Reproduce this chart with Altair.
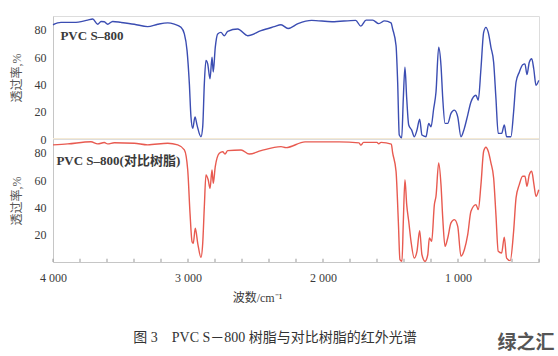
import altair as alt
import pandas as pd

# ---------------- data ----------------
wn_top = [4000, 3941, 3844, 3743, 3706, 3669, 3644, 3620, 3595, 3558, 3496, 3398, 3299, 3224,
          3150, 3101, 3052, 3027, 3007, 2990, 2978, 2965, 2948, 2933, 2904, 2891, 2879, 2867,
          2854, 2837, 2822, 2813, 2798, 2780, 2756, 2731, 2706, 2632, 2558, 2459, 2361, 2311,
          2259, 2185, 2084, 1933, 1758, 1720, 1681, 1632, 1587, 1544, 1496, 1484, 1459, 1447,
          1435, 1417, 1405, 1393, 1380, 1365, 1343, 1324, 1304, 1284, 1267, 1237, 1217, 1200,
          1180, 1163, 1143, 1126, 1113, 1096, 1076, 1052, 1027, 1002, 978, 953, 928, 904, 867,
          850, 830, 810, 793, 776, 756, 736, 719, 702, 677, 657, 640, 608, 588, 570, 546, 521,
          504, 489, 472, 454, 439, 422, 402]
tr_top = [83.6, 85.3, 85.3, 87, 87.8, 84, 86, 85.8, 84, 86, 85.3, 84, 82.2, 84,
          85, 84, 81.7, 76.9, 64.7, 40.5, 16.2, 7.8, 16.2, 10.2, 1.7, 9, 40.5, 57.5,
          55, 44, 59.9, 49, 67, 76.9, 78, 75.6, 78.8, 80.5, 75.6, 79.3, 82.2, 83.6,
          80.9, 84.4, 86.8, 85.8, 86.8, 82.6, 87, 87, 84.4, 86.4, 85, 80.5, 68.4, 41.7,
          2.9, 0.9, 29.8, 52.6, 29.8, 10.2, 6.5, 1.7, 6.5, 14.5, 2.9, 1.7, 11.4, 8.9,
          22.3, 34.4, 67.1, 53.8, 29.8, 11.4, 11.4, 18.7, 21.1, 16.2, 1.7, 7.8, 17.5, 27.1, 32,
          28.4, 51.4, 78, 81.7, 78, 67.1, 56.2, 29.8, 4.1, 4.1, 10.2, 1.7, 1.7, 19.9, 41.7, 48.9, 54.3,
          55, 47.1, 56.2, 58.7, 51.4, 39.3, 42.9]

wn_bot = [4000, 3891, 3719, 3669, 3620, 3595, 3546, 3398, 3299, 3150, 3076, 3027, 3002, 2985,
          2970, 2961, 2946, 2928, 2904, 2891, 2879, 2867, 2850, 2837, 2822, 2813, 2798, 2768,
          2743, 2726, 2706, 2607, 2546, 2459, 2311, 2274, 2133, 1881, 1733, 1720, 1700, 1600,
          1587, 1570, 1494, 1484, 1459, 1442, 1430, 1415, 1405, 1393, 1380, 1365, 1348, 1324,
          1304, 1284, 1267, 1244, 1224, 1212, 1195, 1175, 1163, 1143, 1126, 1113, 1096, 1076,
          1052, 1027, 1002, 978, 953, 928, 904, 867, 850, 830, 810, 793, 776, 756, 736, 719,
          702, 677, 657, 640, 613, 588, 570, 546, 521, 504, 489, 472, 454, 439, 422, 402]
tr_bot = [85.7, 86.4, 88, 86.4, 87.4, 86.4, 87.3, 86.9, 85.7, 86.9, 85.7, 82, 67.3, 35.6,
          14.9, 13.7, 24.7, 13.7, 3.4, 13.7, 40.5, 63.7, 60, 53.9, 67.3, 57.6, 69.8, 79.6,
          80.7, 79, 81.5, 82, 79, 81.5, 84.4, 83.7, 87.9, 87.9, 87.2, 85.5, 87.5, 87.5,
          86.5, 87.5, 86.2, 79.8, 66.4, 29.8, 1.7, 0.5, 29.8, 60.3, 42, 29.8, 15.1, 2.9,
          7.8, 22.9, 5.3, 0.5, 5.3, 17.6, 15.1, 42, 48.1, 72.5, 56.6, 32.2, 11.5, 17.6,
          28.6, 31, 26.1, 4.2, 9, 20, 37.1, 42, 38.3, 56.6, 81, 84, 81, 72.5, 61.5, 34.6,
          7.8, 6.6, 18.1, 2.9, 1, 22.5, 46.9, 56.6, 62.7, 62.7, 55.4, 63.9, 66.4, 57.8, 48.1, 52.9]

x_ticks = list(range(4000, 399, -200))
y_ticks_top = [0, 20, 40, 60, 80]
y_ticks_bot = [20, 40, 60, 80]

label_top = "PVC S–800"
label_bot = "PVC S–800(对比树脂)"
y_title = "透过率,%"
x_title = "波数/cm⁻¹"
caption = "图 3　PVC S－800 树脂与对比树脂的红外光谱"
watermark = "绿之汇"

# ---------------- styling ----------------
FONT = "Liberation Serif, Noto Sans CJK SC"
BLUE = "#3b4db2"
RED = "#e85a50"
BEIGE = "#f5ead4"
AXIS_GREY = "#c6c6c6"
TEXT = "#3a3a3a"
W, H = 486, 123

x_scale = alt.Scale(domain=[4000, 400], nice=False, zero=False)
y_scale = alt.Scale(domain=[0, 90], nice=False, zero=False)

y_axis_common = dict(
    title=y_title, titleFont=FONT, titleFontSize=12, titleFontWeight="normal",
    titleColor="#555555", titlePadding=11, labelFont=FONT, labelFontSize=12,
    labelColor=TEXT, labelPadding=7, ticks=False, grid=False, labelOverlap=False,
    domainColor=AXIS_GREY, domainWidth=1,
)

top_df = pd.DataFrame({"wn": wn_top, "tr": tr_top})
bot_df = pd.DataFrame({"wn": wn_bot, "tr": tr_bot})
tick_df = pd.DataFrame({"wn": x_ticks})

top_line = alt.Chart(top_df).mark_line(
    color=BLUE, strokeWidth=1.4, interpolate="monotone"
).encode(
    x=alt.X("wn:Q", scale=x_scale, axis=None),
    y=alt.Y("tr:Q", scale=y_scale,
            axis=alt.Axis(values=y_ticks_top, tickCount=len(y_ticks_top), **y_axis_common)),
)
# separator line (value 0 of the upper panel)
top_base = alt.Chart(pd.DataFrame({"tr": [0]})).mark_rule(
    color=BEIGE, strokeWidth=2
).encode(y="tr:Q")
top_text = alt.Chart(pd.DataFrame({"t": [label_top]})).mark_text(
    font=FONT, fontSize=13, fontWeight="bold", color=TEXT, align="left", baseline="middle"
).encode(text="t:N", x=alt.datum(3945), y=alt.datum(75.6))
top = alt.layer(top_base, top_line, top_text).properties(width=W, height=H)

bot_line = alt.Chart(bot_df).mark_line(
    color=RED, strokeWidth=1.4, interpolate="monotone"
).encode(
    x=alt.X("wn:Q", scale=x_scale,
            axis=alt.Axis(values=x_ticks, tickCount=len(x_ticks),
                          labelExpr="datum.value % 1000 == 0 ? floor(datum.value / 1000) + ' 000' : ''",
                          labelOverlap=False, labelFlush=False, ticks=False, grid=False,
                          domainColor=AXIS_GREY, labelFont=FONT, labelFontSize=12,
                          labelColor=TEXT, labelPadding=10,
                          title=x_title, titleFont=FONT, titleFontSize=12,
                          titleFontWeight="normal", titleColor=TEXT,
                          titleX=204, titleY=35, titleAlign="center", titleBaseline="middle")),
    y=alt.Y("tr:Q", scale=y_scale,
            axis=alt.Axis(values=y_ticks_bot, tickCount=len(y_ticks_bot), **y_axis_common)),
)
bot_ticks = alt.Chart(tick_df).mark_rule(color="#999999", strokeWidth=1).encode(
    x="wn:Q", y=alt.datum(0), y2=alt.datum(2.4)
)
bot_text = alt.Chart(pd.DataFrame({"t": [label_bot]})).mark_text(
    font=FONT, fontSize=13, fontWeight="bold", color=TEXT, align="left", baseline="middle"
).encode(text="t:N", x=alt.datum(3975), y=alt.datum(74.2))
cap_text = alt.Chart(pd.DataFrame({"t": [caption]})).mark_text(
    font=FONT, fontSize=14, color="#333333", align="center", baseline="middle"
).encode(text="t:N", x=alt.value(222), y=alt.value(199))
wm_text = alt.Chart(pd.DataFrame({"t": [watermark]})).mark_text(
    font="Noto Sans CJK SC", fontSize=19, fontWeight="bold", color="#555555",
    align="center", baseline="middle"
).encode(text="t:N", x=alt.value(473), y=alt.value(204))
bottom = alt.layer(bot_line, bot_ticks, bot_text, cap_text, wm_text).properties(width=W, height=H)

chart = alt.vconcat(top, bottom, spacing=0, bounds="flush").properties(
    padding={"left": 9, "top": 15, "right": 2, "bottom": 0}
).configure_view(stroke=None).configure_axis(labelOverlap=False).configure(background="white")

chart.save("out.html", embed_options={"renderer": "svg", "actions": False})
